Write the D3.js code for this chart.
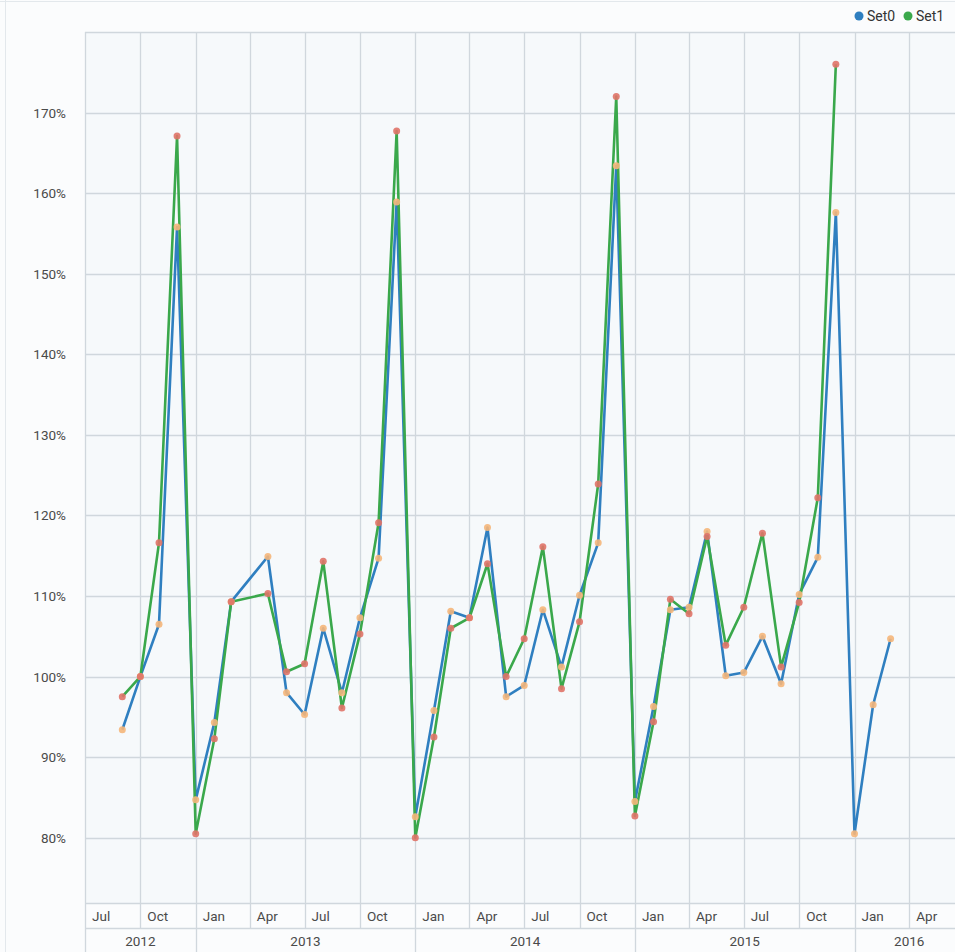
<!DOCTYPE html>
<html>
<head>
<meta charset="utf-8">
<script src="https://cdn.jsdelivr.net/npm/d3@7"></script>
<style>
  html, body { margin: 0; padding: 0; background: #fbfcfd; }
  #chart { width: 955px; height: 952px; overflow: hidden; }
  text { font-family: Roboto, "Open Sans", sans-serif; }
</style>
</head>
<body>
<div id="chart"></div>
<script>
// monthly data (Apr 2013 has no value in either set)
const months = ["2012-09", "2012-10", "2012-11", "2012-12",
    "2013-01", "2013-02", "2013-03", "2013-05", "2013-06", "2013-07", "2013-08", "2013-09", "2013-10", "2013-11", "2013-12",
    "2014-01", "2014-02", "2014-03", "2014-04", "2014-05", "2014-06", "2014-07", "2014-08", "2014-09", "2014-10", "2014-11", "2014-12",
    "2015-01", "2015-02", "2015-03", "2015-04", "2015-05", "2015-06", "2015-07", "2015-08", "2015-09", "2015-10", "2015-11", "2015-12",
    "2016-01", "2016-02", "2016-03"];
const set0 = [93.4, 100, 106.5, 155.8,
    84.7, 94.3, 109.3, 114.9, 98.0, 95.3, 106.0, 98.0, 107.3, 114.7, 158.9,
    82.6, 95.8, 108.1, 107.3, 118.5, 97.5, 98.9, 108.3, 101.2, 110.1, 116.6, 163.4,
    84.5, 96.3, 108.3, 108.6, 118.0, 100.1, 100.5, 105.0, 99.1, 110.2, 114.8, 157.6,
    80.5, 96.5, 104.7];
const set1 = [97.5, 100, 116.6, 167.1,
    80.5, 92.3, 109.3, 110.3, 100.6, 101.6, 114.3, 96.1, 105.3, 119.1, 167.7,
    80.0, 92.5, 106.0, 107.3, 114.0, 100.0, 104.7, 116.1, 98.5, 106.8, 123.9, 172.0,
    82.7, 94.4, 109.6, 107.8, 117.4, 103.9, 108.6, 117.8, 101.2, 109.2, 122.2, 176.0,
    null, null, null];
const seriesNames = ["Set0", "Set1"];
const yTicks = [80, 90, 100, 110, 120, 130, 140, 150, 160, 170, 180];
const monthNames = ["Jan", "Apr", "Jul", "Oct"];

let width = 955, height = 952;
let margin = { top: 32, left: 85, bottom: 49 };
let plotBottom = height - margin.bottom; // 903

let parse = d3.timeParse("%Y-%m");
let dates = months.map(parse);

let x = d3.scaleTime()
    .domain([new Date(2012, 6, 1), new Date(2016, 6, 1)])
    .range([margin.left, 964]);
let y = d3.scaleLinear()
    .domain([71.9, 180])
    .range([plotBottom, margin.top]);

let svg = d3.select("#chart").append("svg")
    .attr("width", width)
    .attr("height", height);

// plot background
svg.append("rect")
    .attr("x", margin.left).attr("y", margin.top)
    .attr("width", width - margin.left).attr("height", plotBottom - margin.top)
    .attr("fill", "#f6f9fb");

// outer frame
svg.append("line")
    .attr("x1", 5.5).attr("x2", 5.5).attr("y1", 0).attr("y2", height)
    .attr("stroke", "#e3e8ec");
svg.append("line")
    .attr("x1", 0).attr("x2", width).attr("y1", 1.5).attr("y2", 1.5)
    .attr("stroke", "#e3e8ec");

let gridColor = "#d0d7dd";

// horizontal grid
svg.append("g").selectAll("line")
    .data(yTicks)
    .enter().append("line")
    .attr("x1", margin.left).attr("x2", width)
    .attr("y1", d => Math.round(y(d)) + 0.5).attr("y2", d => Math.round(y(d)) + 0.5)
    .attr("stroke", gridColor).attr("stroke-width", 1.3);

// quarter ticks
let quarters = d3.timeMonth.every(3).range(new Date(2012, 6, 1), new Date(2016, 6, 2));

svg.append("g").selectAll("line")
    .data(quarters)
    .enter().append("line")
    .attr("x1", d => Math.round(x(d)) + 0.5).attr("x2", d => Math.round(x(d)) + 0.5)
    .attr("y1", margin.top)
    .attr("y2", d => (d.getMonth() == 0 || +d == +x.domain()[0]) ? height : plotBottom + 25)
    .attr("stroke", gridColor).attr("stroke-width", 1.3);

// axis band separators
[plotBottom, plotBottom + 25].forEach(function (yy) {
    svg.append("line")
        .attr("x1", margin.left).attr("x2", width)
        .attr("y1", yy + 0.5).attr("y2", yy + 0.5)
        .attr("stroke", gridColor).attr("stroke-width", 1.3);
});

// month labels
svg.append("g").selectAll("text")
    .data(quarters.filter(d => x(d) < width))
    .enter().append("text")
    .attr("x", d => x(d) + 7)
    .attr("y", plotBottom + 18)
    .text(d => monthNames[d.getMonth() / 3])
    .style("font-size", "13.5px")
    .attr("fill", "#4a4a4a");

// year labels, centred in each year band
let yearBands = [2012, 2013, 2014, 2015, 2016].map(function (yr) {
    let s = d3.max([new Date(yr, 0, 1), x.domain()[0]]);
    let e = d3.min([new Date(yr + 1, 0, 1), x.domain()[1]]);
    return { year: yr, mid: (x(s) + x(e)) / 2 };
});
svg.append("g").selectAll("text")
    .data(yearBands)
    .enter().append("text")
    .attr("x", d => d.mid)
    .attr("y", plotBottom + 43)
    .attr("text-anchor", "middle")
    .text(d => d.year)
    .style("font-size", "13.5px")
    .attr("fill", "#4a4a4a");

// y labels
svg.append("g").selectAll("text")
    .data(yTicks.filter(d => d < 180))
    .enter().append("text")
    .attr("x", 66)
    .attr("y", d => y(d) + 5)
    .attr("text-anchor", "end")
    .text(d => d + "%")
    .style("font-size", "13.5px")
    .attr("fill", "#4a4a4a");

// lines
let lineColors = ["#2f7fc0", "#3aa84b"];
let dotColors = ["#f5b67a", "#e07368"];
let allSets = [set0, set1];

let line = d3.line()
    .defined(d => d.v != null)
    .x(d => x(d.date))
    .y(d => y(d.v));

let seriesData = allSets.map(s => s.map((v, i) => ({ date: dates[i], v: v })));

seriesData.forEach(function (sd, k) {
    svg.append("path")
        .datum(sd)
        .attr("d", line)
        .attr("fill", "none")
        .attr("stroke", lineColors[k])
        .attr("stroke-width", 2.6)
        .attr("stroke-linejoin", "round");
});

seriesData.forEach(function (sd, k) {
    svg.append("g").selectAll("circle")
        .data(sd.filter(d => d.v != null))
        .enter().append("circle")
        .attr("cx", d => x(d.date))
        .attr("cy", d => y(d.v))
        .attr("r", 3.5)
        .attr("fill", dotColors[k])
        .attr("opacity", 0.9);
});

// legend
let legend = svg.append("g").attr("transform", "translate(859,16)");
seriesNames.forEach(function (name, i) {
    let g = legend.append("g").attr("transform", "translate(" + (i * 49) + ",0)");
    g.append("circle").attr("r", 4.5).attr("fill", lineColors[i]);
    g.append("text").attr("x", 8).attr("y", 5)
        .text(name)
        .style("font-size", "14px")
        .attr("fill", "#333");
});
</script>
</body>
</html>
